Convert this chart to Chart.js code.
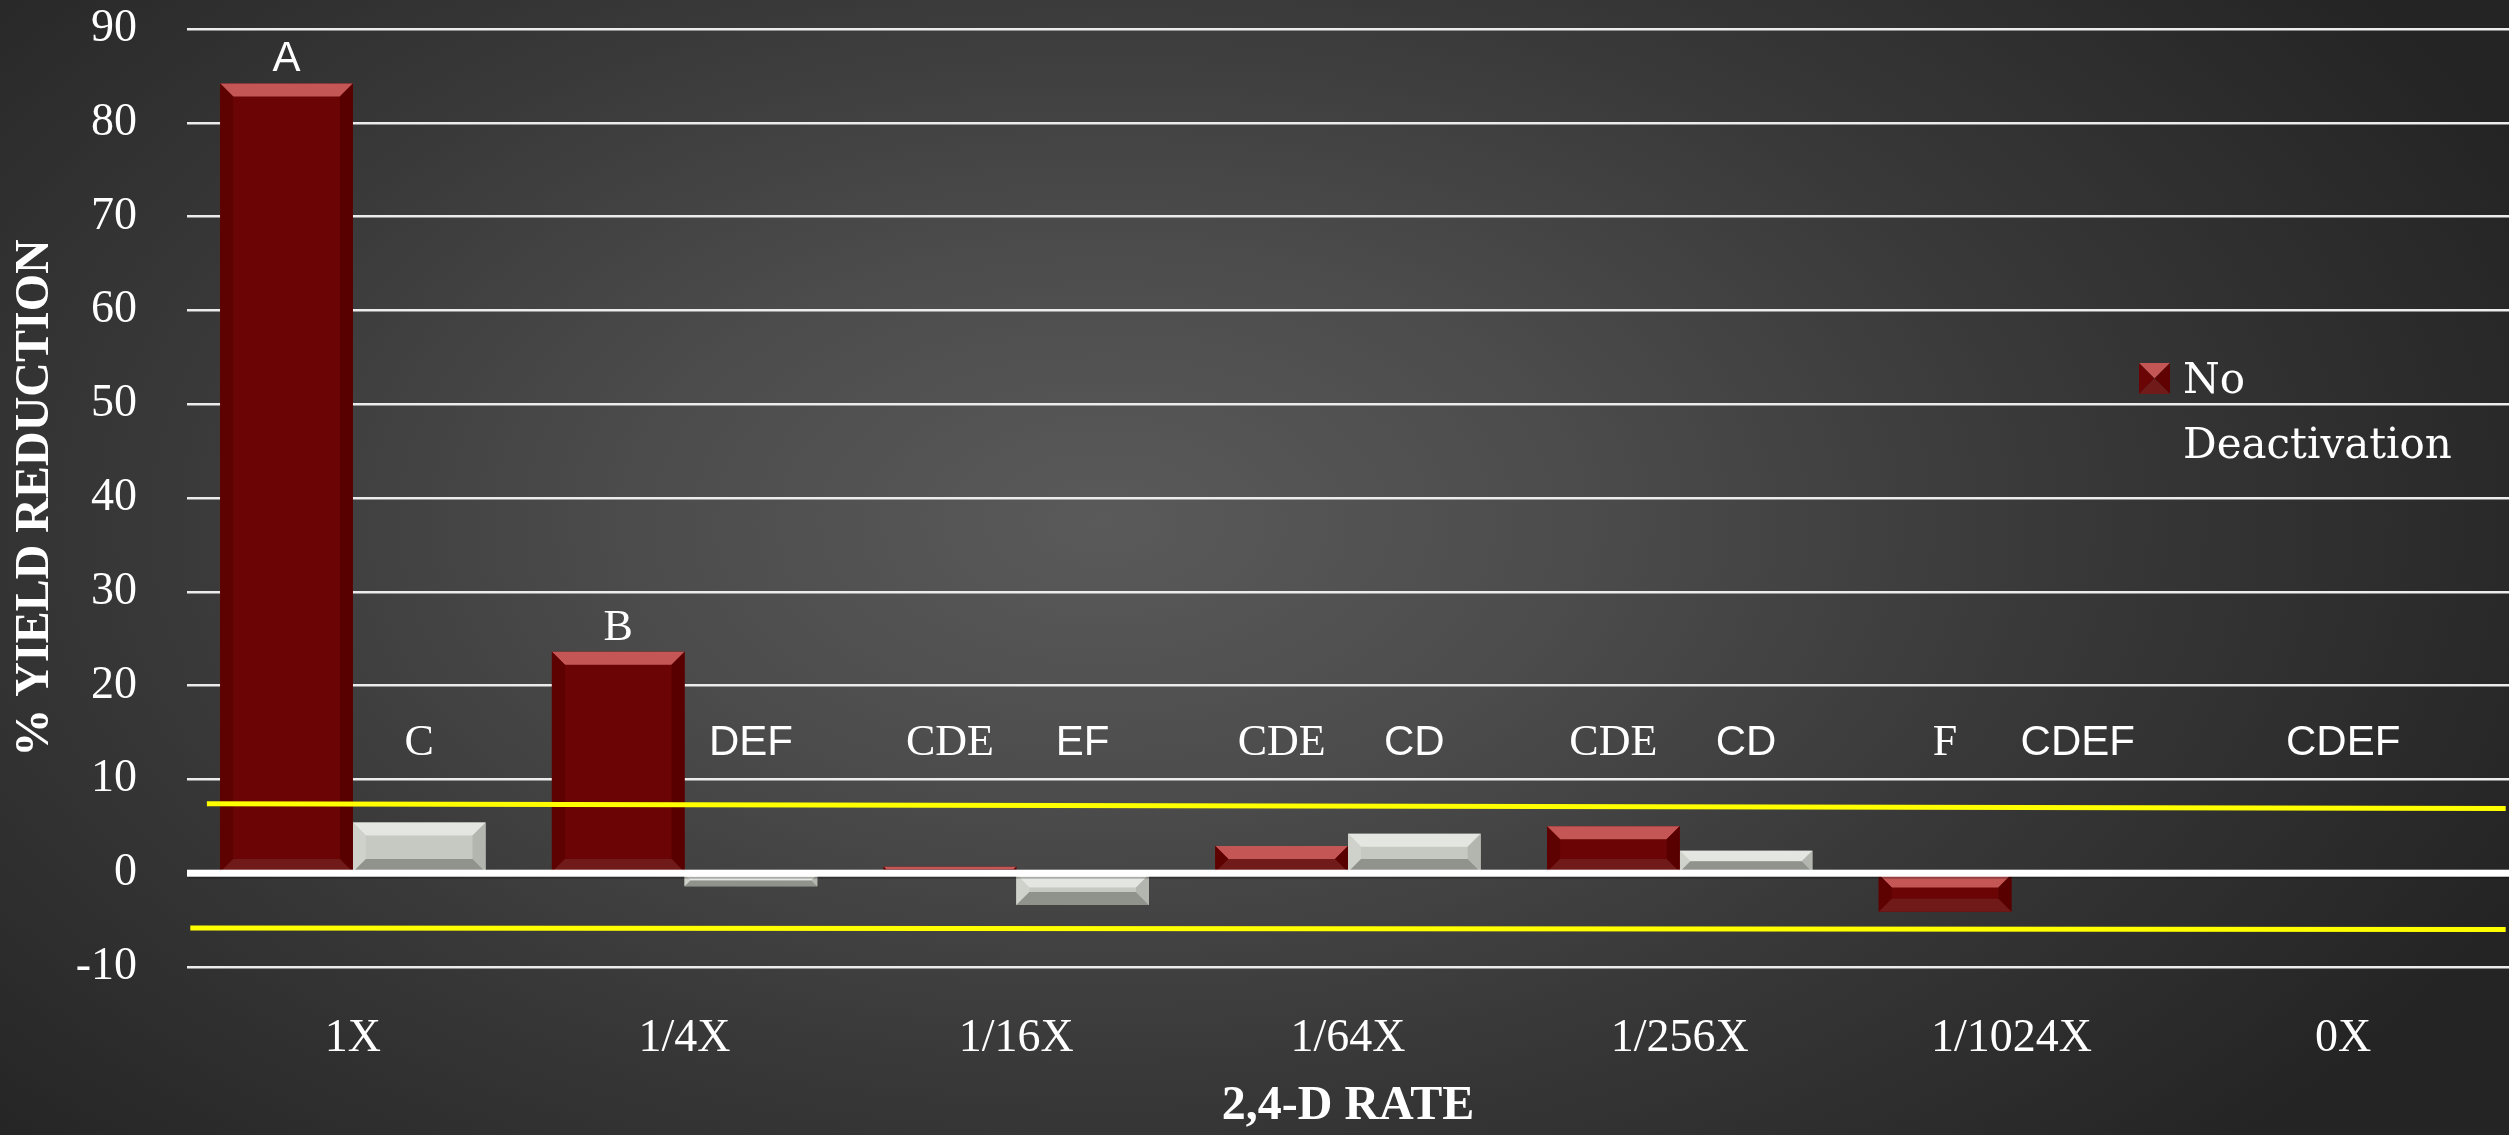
<!DOCTYPE html>
<html><head><meta charset="utf-8">
<script src="https://cdn.jsdelivr.net/npm/chart.js@4.4.1/dist/chart.umd.min.js"></script>
<style>
html,body{margin:0;padding:0;background:#262626;}
#wrap{width:2509px;height:1135px;position:relative;overflow:hidden;
background:radial-gradient(ellipse 62% 80% at 44% 46%, #5a5a5a 0%, #4c4c4c 30%, #383838 62%, #242424 100%);}
canvas{display:block;}
</style></head><body>
<div id="wrap"><canvas id="c" width="2509" height="1135"></canvas></div>
<script>
// ---- data ----
const categories = ['1X', '1/4X', '1/16X', '1/64X', '1/256X', '1/1024X', '0X'];
const seriesNames = ['No Deactivation', 'Deactivation'];
const noDeactivation = [84.2, 23.6, 0.7, 2.9, 5.0, -4.1, 0];
const deactivation = [5.4, -1.4, -3.4, 4.2, 2.4, 0, 0];
const noDeactLetters = ['A', 'B', 'CDE', 'CDE', 'CDE', 'F', ''];
const deactLetters = ['C', 'DEF', 'EF', 'CD', 'CD', 'CDEF', ''];
const groupLetters = ['', '', '', '', '', '', 'CDEF'];
// yellow reference lines, x in category-index units (-0.5 = left edge, 6.5 = right edge)
const upperLimitLine = [{x: -0.44, y: 7.4}, {x: 6.49, y: 6.9}];
const lowerLimitLine = [{x: -0.49, y: -5.85}, {x: 6.49, y: -6.0}];
const yTicks = [-10, 0, 10, 20, 30, 40, 50, 60, 70, 80, 90];

// ---- styles ----
const SERIF = '"Liberation Serif", "Times New Roman", serif';
const SANS = '"Liberation Sans", Arial, sans-serif';
const noDeactLetterFont = ['sans', 'serif', 'serif', 'serif', 'serif', 'serif', 'serif'];
const deactLetterFont = ['serif', 'sans', 'sans', 'sans', 'sans', 'sans', 'sans'];
const bevelColors = [
  {top: '#c45656', left: '#5e0101', right: '#580000', bottom: '#701a1a'},
  {top: '#e4e6e1', left: '#cfd2cb', right: '#b3b6af', bottom: '#90938c'}
];

const bevelPlugin = {
  id: 'bevel',
  afterDatasetDraw(chart, args) {
    const ds = chart.data.datasets[args.index];
    if (ds.type !== 'bar') return;
    const c = bevelColors[args.index];
    const ctx = chart.ctx;
    const area = chart.chartArea;
    ctx.save();
    ctx.beginPath();
    ctx.rect(area.left, area.top, area.right - area.left, area.bottom - area.top);
    ctx.clip();
    args.meta.data.forEach(el => {
      const p = el.getProps(['x', 'y', 'base', 'width'], true);
      const l = p.x - p.width / 2, r = p.x + p.width / 2;
      const t = Math.min(p.y, p.base), b = Math.max(p.y, p.base);
      if (b - t < 1) return;
      const v = Math.min(13, (b - t) / 2, p.width / 2);
      const poly = (pts, col) => {
        ctx.fillStyle = col; ctx.beginPath();
        ctx.moveTo(pts[0][0], pts[0][1]);
        for (let i = 1; i < pts.length; i++) ctx.lineTo(pts[i][0], pts[i][1]);
        ctx.closePath(); ctx.fill();
      };
      poly([[l, t], [r, t], [r - v, t + v], [l + v, t + v]], c.top);
      poly([[l, t], [l + v, t + v], [l + v, b - v], [l, b]], c.left);
      poly([[r, t], [r, b], [r - v, b - v], [r - v, t + v]], c.right);
      poly([[l, b], [l + v, b - v], [r - v, b - v], [r, b]], c.bottom);
    });
    ctx.restore();
  }
};

const overlayPlugin = {
  id: 'overlay',
  afterDatasetsDraw(chart) {
    const ctx = chart.ctx;
    const ys = chart.scales.y, xs = chart.scales.x;
    const area = chart.chartArea;
    const y0 = ys.getPixelForValue(0);
    ctx.save();
    // zero line on top of bars
    ctx.fillStyle = 'rgba(0,0,0,0.25)';
    ctx.fillRect(area.left, y0 + 3.5, area.right - area.left, 2);
    ctx.fillStyle = '#ffffff';
    ctx.fillRect(area.left, y0 - 3.5, area.right - area.left, 7);
    // significance letters
    ctx.textAlign = 'center';
    ctx.textBaseline = 'alphabetic';
    const rowY = ys.getPixelForValue(12.6);
    const sets = [[noDeactLetters, noDeactLetterFont, 0], [deactLetters, deactLetterFont, 1]];
    sets.forEach(([letters, fonts, di]) => {
      const meta = chart.getDatasetMeta(di);
      letters.forEach((txt, i) => {
        if (!txt) return;
        const p = meta.data[i].getProps(['x', 'y', 'base'], true);
        const top = Math.min(p.y, p.base);
        let y = rowY;
        if (top - 12 < rowY) y = top - 12;
        ctx.font = (fonts[i] === 'serif' ? '44px ' + SERIF : '42px ' + SANS);
        ctx.fillStyle = '#ffffff';
        ctx.fillText(txt, p.x, y);
      });
    });
    groupLetters.forEach((txt, i) => {
      if (!txt) return;
      ctx.font = '42px ' + SANS;
      ctx.fillText(txt, xs.getPixelForValue(i), rowY);
    });
    // legend (inside plot, first series only, as in the original)
    const lx = 2139, ly = 363, s = 31;
    const c = bevelColors[0];
    const tri = (pts, col) => { ctx.fillStyle = col; ctx.beginPath(); ctx.moveTo(pts[0][0], pts[0][1]); ctx.lineTo(pts[1][0], pts[1][1]); ctx.lineTo(pts[2][0], pts[2][1]); ctx.closePath(); ctx.fill(); };
    const cx = lx + s / 2, cy = ly + s / 2;
    tri([[lx, ly], [lx + s, ly], [cx, cy]], c.top);
    tri([[lx, ly], [cx, cy], [lx, ly + s]], '#6b0505');
    tri([[lx + s, ly], [lx + s, ly + s], [cx, cy]], '#600202');
    tri([[lx, ly + s], [cx, cy], [lx + s, ly + s]], c.bottom);
    ctx.fillStyle = '#ffffff';
    ctx.textAlign = 'left';
    ctx.font = '42px "DejaVu Serif", serif';
    const words = seriesNames[0].split(' ');
    ctx.fillText(words[0], 2183, 393);
    ctx.fillText(words.slice(1).join(' '), 2183, 458);
    ctx.restore();
  }
};

new Chart(document.getElementById('c'), {
  type: 'bar',
  data: {
    labels: categories,
    datasets: [
      {type: 'bar', label: seriesNames[0], data: noDeactivation, backgroundColor: '#6b0505', order: 2},
      {type: 'bar', label: seriesNames[1], data: deactivation, backgroundColor: '#c5c9c1', order: 2},
      {type: 'line', label: 'upper', data: upperLimitLine, parsing: false, borderColor: '#ffff00',
       borderWidth: 5, pointRadius: 0, order: 1},
      {type: 'line', label: 'lower', data: lowerLimitLine, parsing: false, borderColor: '#ffff00',
       borderWidth: 5, pointRadius: 0, order: 1}
    ]
  },
  options: {
    responsive: false,
    animation: false,
    datasets: {bar: {categoryPercentage: 0.8, barPercentage: 1.0}},
    layout: {padding: {top: 29, right: 0, left: 0, bottom: 0}},
    plugins: {legend: {display: false}, tooltip: {enabled: false}},
    scales: {
      x: {
        type: 'category',
        grid: {display: false},
        border: {display: false},
        ticks: {color: '#ffffff', font: {family: SERIF, size: 46}, padding: 36},
        title: {display: true, text: '2,4-D RATE', color: '#ffffff',
                font: {family: SERIF, size: 48, weight: 'bold'}, padding: {top: 0, bottom: 0}},
        afterFit(scale) { scale.height = 168; }
      },
      y: {
        min: -10, max: 90,
        afterBuildTicks(scale) { scale.ticks = yTicks.map(v => ({value: v})); },
        grid: {color: '#ececec', lineWidth: 2.5, drawTicks: false},
        border: {display: false},
        ticks: {color: '#ffffff', font: {family: SERIF, size: 46}, padding: 50},
        title: {display: true, text: '% YIELD REDUCTION', color: '#ffffff',
                font: {family: SERIF, size: 48, weight: 'bold'}, padding: {top: 7, bottom: 0}},
        afterFit(scale) { scale.width = 187; scale.paddingTop = 29; scale.paddingBottom = 0; }
      }
    }
  },
  plugins: [bevelPlugin, overlayPlugin]
});
</script>
</body></html>
